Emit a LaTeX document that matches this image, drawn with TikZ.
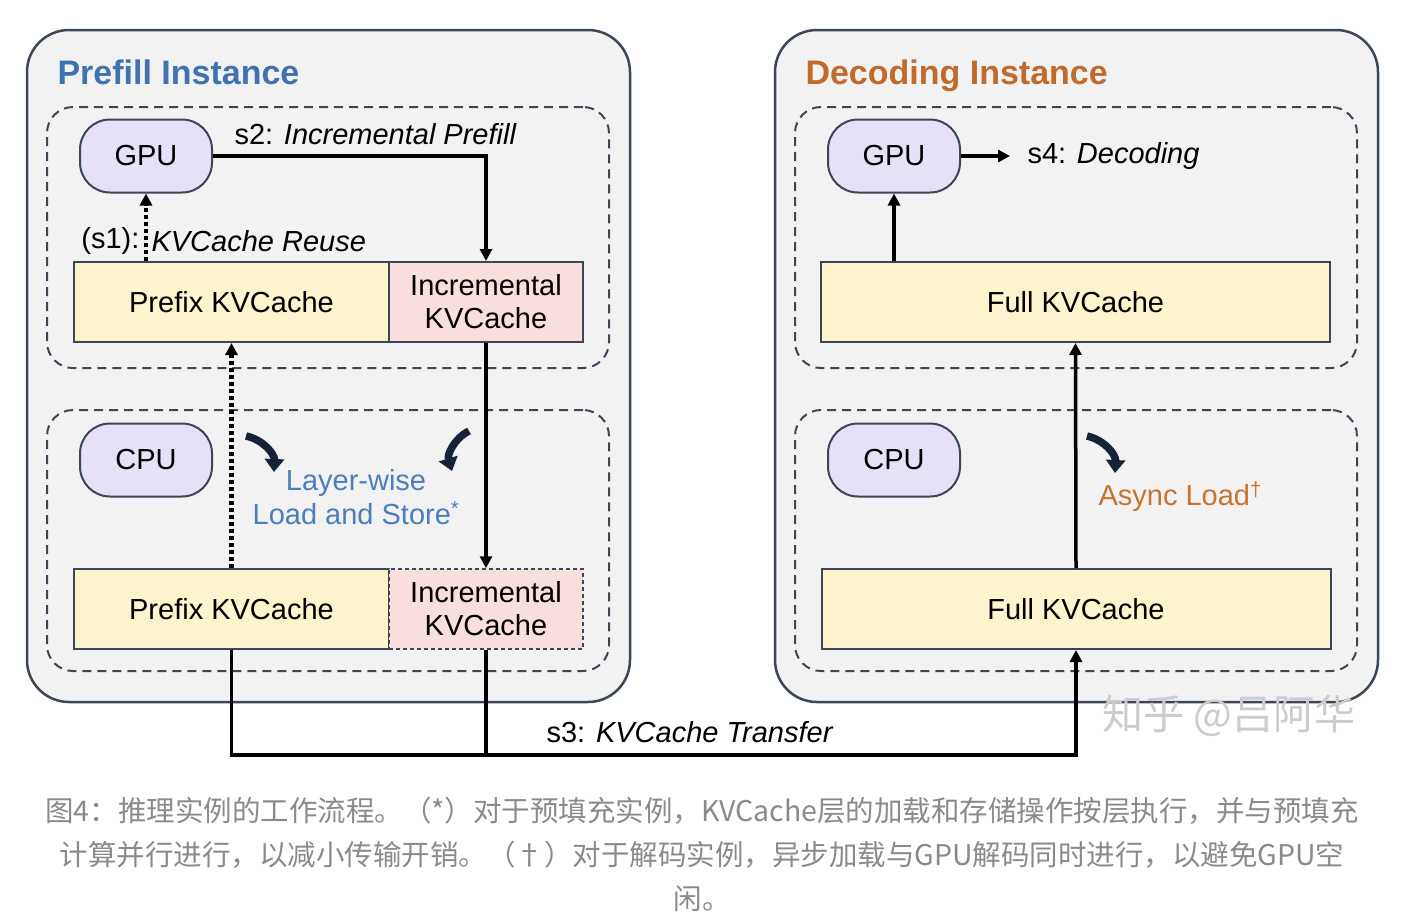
\documentclass[tikz,border=0pt]{standalone}
\usepackage{fontspec}
\setmainfont{Liberation Sans}
\newfontfamily\cjkfont{Noto Sans CJK SC}
\usetikzlibrary{arrows.meta}

\definecolor{panelgray}{HTML}{F2F2F2}
\definecolor{edgecol}{HTML}{3B4656}
\definecolor{gpufill}{HTML}{E6E1F7}
\definecolor{prefixfill}{HTML}{FDF3CC}
\definecolor{incrfill}{HTML}{F9DEDE}
\definecolor{prefillblue}{HTML}{3F72AF}
\definecolor{layerblue}{HTML}{4B7EBD}
\definecolor{decodeorange}{HTML}{C06A2B}
\definecolor{asyncorange}{HTML}{C8742F}
\definecolor{bendcol}{HTML}{162238}
\definecolor{capgray}{HTML}{8A8A8A}

\newcommand\mainsize{\fontsize{29}{33}\selectfont}
\newcommand\titlesize{\fontsize{34}{38}\selectfont\bfseries}

\tikzset{
  every node/.style={font=\mainsize},
  instance/.style={draw=edgecol, line width=2.5, fill=panelgray, rounded corners=42,
    minimum width=603, minimum height=672},
  tier/.style={draw=edgecol, line width=2, dash pattern=on 9pt off 6pt, rounded corners=26,
    minimum width=562, minimum height=261},
  unit/.style={draw=edgecol, line width=2, fill=gpufill, rounded corners=30,
    minimum width=132, minimum height=73, inner sep=0},
  cache/.style={draw=edgecol, line width=2, minimum height=80, inner sep=0, align=center},
  prefixbox/.style={cache, fill=prefixfill, minimum width=315},
  incrbox/.style={cache, fill=incrfill, minimum width=194},
  fullbox/.style={cache, fill=prefixfill, minimum width=509},
  arr/.style={line width=3.5, -{Triangle[length=12pt,width=12pt]}},
  link/.style={line width=3.5},
  dotarr/.style={line width=4.5, dash pattern=on 4pt off 3pt, -{Triangle[length=12pt,width=12pt]}},
  bendarr/.style={bendcol, line width=7.5, -{Triangle[length=13pt,width=19pt]}},
  caption/.style={text=capgray, align=center, font=\cjkfont\fontsize{28.5}{44}\selectfont},
}

\begin{document}
\begin{tikzpicture}[x=1pt, y=-1pt]
\useasboundingbox (0,0) rectangle (1418,914);

% instances
\node[instance] (prefill) at (328.5,366) {};
\node[instance] (decoding) at (1076.5,366) {};
\node[tier] (prefillgpu) at (328,237.5) {};
\node[tier] (prefillcpu) at (328,540.5) {};
\node[tier] (decodegpu) at (1076,237.5) {};
\node[tier] (decodecpu) at (1076,540.5) {};

\node[anchor=base west, text=prefillblue, font=\titlesize] (prefilltitle) at (54,84) {Prefill Instance};
\node[anchor=base west, text=decodeorange, font=\titlesize] (decodetitle) at (802,84) {Decoding Instance};

% prefill side
\node[unit] (gpuL) at (146,156) {GPU};
\node[unit] (cpuL) at (146,460) {CPU};
\node[prefixbox] (preT) at (231.5,302) {Prefix KVCache};
\node[incrbox] (incT) at (486,302) {Incremental\\KVCache};
\node[prefixbox] (preB) at (231.5,609) {Prefix KVCache};
\node[incrbox, dash pattern=on 4pt off 3pt, line width=1.5] (incB) at (486,609) {Incremental\\KVCache};

% decoding side
\node[unit] (gpuR) at (894,156) {GPU};
\node[unit] (cpuR) at (894,460) {CPU};
\node[fullbox] (fullT) at (1075.5,302) {Full KVCache};
\node[fullbox] (fullB) at (1076,609) {Full KVCache};

% steps
\draw[arr] (gpuL.east) -| (incT.north);
\node[anchor=west] (s2) at (231,134) {s2: \textit{Incremental Prefill}};
\draw[dotarr] (preT.north -| gpuL) -- (gpuL.south);
\node[anchor=east] (s1) at (143,241) {(s1):};
\node[anchor=west] (s1txt) at (148,241) {\textit{KVCache Reuse}};
\draw[dotarr] (preB.north) -- (preT.south);
\draw[arr] (incT.south) -- (incB.north);

\draw[bendarr] (246,436) to[bend left=40] (274,472);
\draw[bendarr] (469,431) to[bend right=40] (452,471);
\node[text=layerblue, align=center, font=\fontsize{29}{34}\selectfont] (layer) at (356,497)
  {Layer-wise\\Load and Store\textsuperscript{*}};

\coordinate (bus) at (0,755);
\draw[arr] (preB.south) -- (preB.south |- bus) -| (fullB.south);
\draw[link] (incB.south) -- (incB.south |- bus);
\node (s3) at (690,732) {s3: \textit{KVCache Transfer}};

\draw[arr] (fullB.north) -- (fullT.south);
\draw[bendarr] (1087,436) to[bend left=40] (1115,473);
\node[anchor=west, text=asyncorange] (async) at (1095,497) {Async Load\textsuperscript{†}};

\draw[arr] (fullT.north -| gpuR) -- (gpuR.south);
\coordinate (dec) at (1010,156);
\draw[arr] (gpuR.east) -- (dec);
\node[anchor=west] (s4) at (1024,156) {s4: \textit{Decoding}};

% watermark and caption
\node[text=gray!40, font=\cjkfont\fontsize{41}{43}\selectfont] (mark) at (1229,716) {知乎 @吕阿华};
\node[caption] (cap) at (702,854)
  {图4：推理实例的工作流程。（*）对于预填充实例，KVCache层的加载和存储操作按层执行，并与预填充\\
   计算并行进行，以减小传输开销。（†）对于解码实例，异步加载与GPU解码同时进行，以避免GPU空\\
   闲。};
\end{tikzpicture}
\end{document}
